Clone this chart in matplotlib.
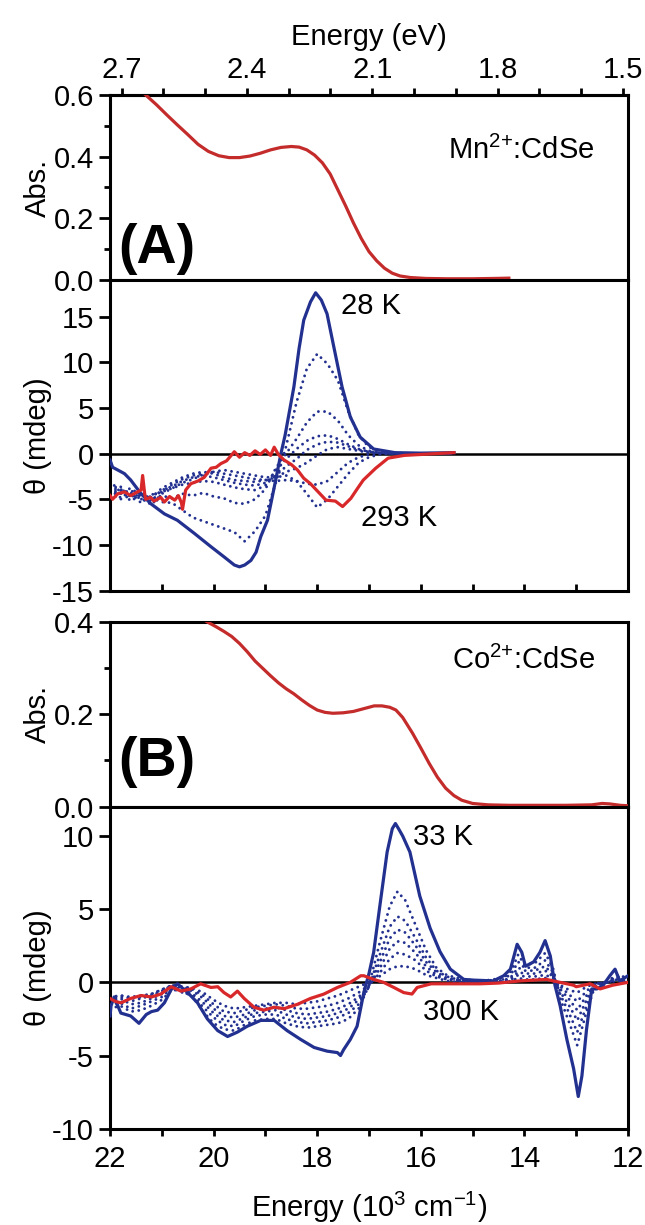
import matplotlib
matplotlib.use('Agg')
import matplotlib.pyplot as plt
from matplotlib.ticker import MultipleLocator, FixedLocator

plt.rcParams['font.family'] = ['Liberation Sans', 'DejaVu Sans']
plt.rcParams['axes.unicode_minus'] = False
plt.rcParams['mathtext.fontset'] = 'custom'
plt.rcParams['mathtext.rm'] = 'Liberation Sans'
plt.rcParams['mathtext.it'] = 'Liberation Sans:italic'
plt.rcParams['mathtext.bf'] = 'Liberation Sans:bold'
plt.rcParams['mathtext.default'] = 'regular'

BLUE = '#22308f'
RED = '#d8282a'
ABS_RED = '#c42b2b'
FS = 21

# ── (A) Mn2+:CdSe ─────────────────────────────────────────────────────────────
absA_x = [21.31, 21.10, 20.90, 20.70, 20.50, 20.30, 20.10, 19.90, 19.70, 19.50,
          19.30, 19.10, 18.90, 18.70, 18.50, 18.35, 18.20, 18.05, 17.90, 17.75,
          17.60, 17.45, 17.30, 17.15, 17.00, 16.85, 16.70, 16.55, 16.40, 16.20,
          15.90, 15.50, 15.00, 14.60, 14.30]
absA_y = [0.600, 0.568, 0.535, 0.503, 0.472, 0.440, 0.417, 0.403, 0.397, 0.397,
          0.402, 0.411, 0.422, 0.430, 0.433, 0.431, 0.422, 0.405, 0.380, 0.344,
          0.292, 0.240, 0.185, 0.135, 0.092, 0.062, 0.038, 0.022, 0.013, 0.008,
          0.005, 0.004, 0.004, 0.005, 0.006]

cdA_28K_x = [22.0, 21.95, 21.85, 21.72, 21.6, 21.4, 21.21, 20.95, 20.70, 20.38,
             20.05, 19.80, 19.6, 19.5, 19.4, 19.28, 19.18, 19.09, 18.96, 18.83,
             18.70, 18.62, 18.45, 18.35, 18.26, 18.13, 18.03, 17.92, 17.81, 17.68,
             17.52, 17.36, 17.17, 16.91, 16.5, 16.0, 15.36]
cdA_28K_y = [-0.7, -1.5, -1.8, -2.2, -2.9, -4.4, -5.5, -6.6, -7.3, -8.7,
             -10.2, -11.3, -12.2, -12.4, -12.2, -11.7, -10.8, -9.1, -7.3, -3.7,
             0.0, 2.0, 7.3, 11.5, 14.6, 16.6, 17.6, 16.8, 15.3, 11.7,
             7.3, 4.0, 1.8, 0.5, 0.1, 0.05, 0.1]

cdA_293K_x = [22.0, 21.95, 21.85, 21.72, 21.6, 21.47, 21.40, 21.37, 21.33, 21.31,
              21.22, 21.15, 21.02, 20.95, 20.85, 20.75, 20.68, 20.62, 20.60, 20.54,
              20.44, 20.30, 20.18, 20.05, 19.95, 19.86, 19.75, 19.60, 19.50, 19.40,
              19.30, 19.20, 19.10, 19.00, 18.90, 18.83, 18.75, 18.64, 18.50, 18.38,
              18.26, 18.13, 17.98, 17.83, 17.65, 17.51, 17.35, 17.22, 17.11, 16.87,
              16.63, 16.32, 16.0, 15.7, 15.36]
cdA_293K_y = [-4.6, -5.0, -4.4, -4.2, -4.6, -4.2, -4.0, -2.4, -4.4, -5.0,
              -4.8, -5.2, -4.8, -5.3, -4.7, -5.1, -4.6, -5.4, -6.1, -4.0,
              -3.3, -3.0, -2.6, -1.6, -1.5, -1.1, -0.8, 0.2, -0.4, 0.1,
              -0.2, 0.3, -0.1, 0.4, -0.2, 0.7, -0.1, -0.7, -1.2, -1.8,
              -2.7, -3.3, -4.2, -5.1, -5.2, -5.8, -4.9, -3.8, -2.9, -1.6,
              -0.5, -0.2, -0.1, 0.0, 0.1]

# intermediate temperatures, shared energy grid
cdA_mid_x = [22.0, 21.8, 21.6, 21.4, 21.2, 21.0, 20.8, 20.6, 20.4, 20.2,
             20.0, 19.8, 19.6, 19.4, 19.2, 19.0, 18.8, 18.6, 18.4, 18.2,
             18.0, 17.8, 17.6, 17.4, 17.2, 17.0, 16.8, 16.6, 16.4, 16.0,
             15.7, 15.4]
cdA_mid1 = [-3.0, -4.2, -3.8, -4.6, -4.9, -5.3, -5.4, -6.2, -7.0, -7.4,
            -7.8, -8.2, -8.6, -9.6, -8.5, -6.8, -3.2, 0.8, 5.6, 9.3,
            10.9, 9.8, 8.0, 4.6, 2.0, 0.7, 0.3, 0.1, 0.05, 0.0,
            0.0, 0.0]
cdA_mid2 = [-3.4, -3.9, -4.5, -4.2, -5.0, -4.6, -4.9, -4.4, -4.6, -4.3,
            -4.7, -4.9, -5.4, -5.5, -5.0, -3.9, -1.6, 0.0, 1.6, 3.4,
            4.6, 4.6, 3.6, 2.0, 0.9, 0.3, 0.1, 0.05, 0.0, 0.0,
            0.0, 0.0]
cdA_mid3 = [-3.8, -4.4, -4.0, -5.0, -4.5, -4.2, -3.8, -3.4, -3.2, -3.0,
            -3.1, -3.4, -3.7, -3.9, -4.0, -3.5, -1.8, -0.6, 0.5, 1.4,
            1.9, 2.0, 1.6, 1.0, 0.5, 0.2, 0.1, 0.0, 0.0, 0.0,
            0.0, 0.0]
cdA_mid4 = [-4.2, -3.6, -4.8, -4.4, -5.2, -4.0, -3.6, -3.0, -2.6, -2.4,
            -2.6, -2.9, -3.2, -3.4, -3.5, -3.2, -2.4, -1.4, -0.6, 0.4,
            1.0, 1.3, 1.2, 0.8, 0.4, 0.2, 0.1, 0.0, 0.0, 0.0,
            0.0, 0.0]
cdA_mid5 = [-4.6, -4.0, -5.2, -4.5, -4.8, -3.8, -3.2, -2.6, -2.2, -2.0,
            -2.2, -2.6, -2.9, -3.0, -3.1, -2.9, -2.6, -2.0, -1.6, -1.0,
            -0.2, 0.5, 0.7, 0.5, 0.3, 0.1, 0.0, 0.0, 0.0, 0.0,
            0.0, 0.0]
cdA_mid6 = [-4.0, -4.8, -4.3, -5.4, -4.6, -4.2, -3.4, -2.8, -2.4, -2.2,
            -2.0, -2.2, -2.4, -2.6, -2.8, -2.9, -3.0, -2.9, -3.0, -3.3,
            -3.4, -3.0, -2.0, -1.0, -0.4, -0.1, 0.0, 0.0, 0.0, 0.0,
            0.0, 0.0]
cdA_mid7 = [-4.4, -5.0, -4.6, -4.9, -5.6, -4.4, -3.8, -3.2, -2.8, -2.3,
            -2.0, -1.8, -2.0, -2.2, -2.4, -2.6, -2.6, -2.4, -3.0, -4.4,
            -5.9, -5.0, -3.6, -2.2, -1.0, -0.4, -0.1, 0.0, 0.0, 0.0,
            0.0, 0.0]

# ── (B) Co2+:CdSe ─────────────────────────────────────────────────────────────
absB_x = [20.13, 19.95, 19.80, 19.65, 19.50, 19.35, 19.20, 19.05, 18.90, 18.75,
          18.60, 18.45, 18.30, 18.15, 18.00, 17.85, 17.70, 17.50, 17.30, 17.10,
          16.90, 16.75, 16.60, 16.48, 16.35, 16.16, 16.00, 15.84, 15.68, 15.52,
          15.36, 15.21, 15.00, 14.70, 14.30, 13.80, 13.20, 12.70, 12.50, 12.35,
          12.15, 12.00]
absB_y = [0.400, 0.389, 0.379, 0.368, 0.353, 0.335, 0.315, 0.299, 0.283, 0.268,
          0.255, 0.244, 0.231, 0.219, 0.209, 0.204, 0.202, 0.203, 0.206, 0.212,
          0.218, 0.218, 0.215, 0.209, 0.193, 0.159, 0.127, 0.094, 0.064, 0.040,
          0.024, 0.014, 0.007, 0.004, 0.003, 0.003, 0.003, 0.004, 0.007, 0.006,
          0.003, 0.002]

cdB_33K_x = [22.0, 21.98, 21.92, 21.85, 21.79, 21.6, 21.44, 21.3, 21.2, 21.08,
             20.95, 20.82, 20.70, 20.50, 20.31, 20.12, 19.92, 19.73, 19.54, 19.35,
             19.09, 18.83, 18.58, 18.32, 18.06, 17.81, 17.61, 17.55, 17.49, 17.36,
             17.23, 17.10, 17.00, 16.91, 16.78, 16.65, 16.55, 16.49, 16.43, 16.35,
             16.21, 16.02, 15.82, 15.63, 15.43, 15.17, 14.97, 14.60, 14.40, 14.27,
             14.14, 14.05, 13.98, 13.82, 13.70, 13.60, 13.50, 13.41, 13.31, 13.18,
             13.05, 12.96, 12.89, 12.80, 12.70, 12.60, 12.48, 12.35, 12.25, 12.16,
             12.00]
cdB_33K_y = [-2.3, -1.6, -1.0, -1.6, -2.1, -2.3, -2.8, -2.2, -2.0, -1.9,
             -1.4, -0.5, -0.1, -0.7, -1.4, -2.5, -3.3, -3.7, -3.4, -3.0,
             -2.6, -2.6, -3.3, -3.9, -4.45, -4.7, -4.8, -5.0, -4.6, -3.9,
             -3.0, -0.7, 0.6, 2.05, 5.5, 8.9, 10.5, 10.85, 10.5, 10.0,
             8.9, 5.9, 3.7, 2.1, 0.9, 0.2, 0.15, 0.1, 0.45, 0.9,
             2.6, 2.05, 1.1, 1.4, 2.05, 2.85, 1.8, -0.2, -1.6, -3.9,
             -5.9, -7.8, -6.4, -3.2, -0.45, -0.45, -0.2, 0.45, 0.9, 0.1,
             0.45]

cdB_300K_x = [22.0, 21.9, 21.79, 21.6, 21.4, 21.2, 21.02, 20.82, 20.63, 20.44,
              20.25, 20.05, 19.92, 19.80, 19.67, 19.54, 19.41, 19.22, 19.03, 18.83,
              18.64, 18.38, 18.13, 17.87, 17.61, 17.36, 17.16, 17.10, 16.91, 16.72,
              16.52, 16.33, 16.17, 16.07, 15.80, 15.40, 14.85, 14.50, 14.08, 13.57,
              13.45, 13.31, 13.05, 13.00, 12.73, 12.54, 12.30, 12.00]
cdB_300K_y = [-1.1, -1.3, -1.4, -1.1, -0.9, -1.0, -0.8, -0.3, -0.6, -0.45,
              -0.1, -0.35, -0.3, -0.7, -1.0, -0.6, -1.1, -1.7, -1.9, -1.7,
              -1.8, -1.5, -1.1, -0.8, -0.35, 0.0, 0.45, 0.45, 0.2, 0.0,
              -0.35, -0.7, -0.8, -0.35, -0.1, -0.1, -0.1, -0.05, 0.1, 0.2,
              0.1, 0.0, -0.2, -0.3, -0.1, -0.45, -0.2, 0.0]

cdB_mid_x = [22.0, 21.8, 21.6, 21.4, 21.2, 21.0, 20.8, 20.6, 20.4, 20.2,
             20.0, 19.8, 19.6, 19.4, 19.2, 19.0, 18.8, 18.6, 18.4, 18.2,
             18.0, 17.8, 17.6, 17.4, 17.2, 17.0, 16.8, 16.6, 16.45, 16.3,
             16.1, 15.9, 15.7, 15.5, 15.2, 14.8, 14.4, 14.25, 14.12, 14.0,
             13.8, 13.6, 13.45, 13.3, 13.15, 12.98, 12.8, 12.65, 12.4, 12.2,
             12.0]
cdB_mid1 = [-1.8, -1.6, -2.0, -1.9, -1.6, -1.2, -0.5, -0.6, -1.0, -2.0,
            -2.8, -3.2, -3.3, -2.9, -2.6, -2.5, -2.5, -2.8, -3.0, -3.1,
            -3.0, -2.9, -2.8, -2.5, -1.8, -0.2, 2.6, 5.2, 6.2, 5.6,
            3.9, 2.2, 1.0, 0.5, 0.2, 0.1, 0.3, 0.8, 1.9, 1.2,
            1.3, 2.0, 1.0, -1.2, -2.6, -4.3, -2.0, -0.4, 0.1, 0.5,
            0.3]
cdB_mid2 = [-1.5, -1.4, -1.8, -1.6, -1.3, -1.0, -0.4, -0.7, -0.9, -1.7,
            -2.4, -2.9, -3.0, -2.6, -2.3, -2.2, -2.2, -2.5, -2.7, -2.8,
            -2.7, -2.6, -2.4, -2.1, -1.5, -0.3, 1.8, 3.8, 4.5, 4.2,
            3.0, 1.7, 0.8, 0.4, 0.1, 0.1, 0.2, 0.6, 1.4, 1.0,
            1.0, 1.5, 0.7, -0.9, -2.0, -3.4, -1.6, -0.3, 0.0, 0.4,
            0.2]
cdB_mid3 = [-1.3, -1.1, -1.5, -1.4, -1.1, -0.8, -0.3, -0.5, -0.8, -1.4,
            -2.1, -2.6, -2.7, -2.4, -2.1, -2.0, -1.9, -2.2, -2.4, -2.5,
            -2.4, -2.3, -2.1, -1.8, -1.2, -0.3, 1.3, 3.0, 3.6, 3.4,
            2.5, 1.4, 0.7, 0.3, 0.1, 0.0, 0.1, 0.4, 1.0, 0.8,
            0.8, 1.1, 0.5, -0.7, -1.5, -2.6, -1.2, -0.2, 0.1, 0.3,
            0.1]
cdB_mid4 = [-1.2, -1.0, -1.3, -1.1, -0.9, -0.6, -0.2, -0.4, -0.6, -1.1,
            -1.8, -2.3, -2.4, -2.2, -1.9, -1.8, -1.7, -1.9, -2.1, -2.2,
            -2.1, -2.0, -1.8, -1.5, -1.0, -0.3, 0.9, 2.3, 2.8, 2.7,
            2.0, 1.1, 0.5, 0.2, 0.1, 0.0, 0.1, 0.3, 0.7, 0.6,
            0.6, 0.8, 0.4, -0.5, -1.1, -1.9, -0.9, -0.2, 0.0, 0.2,
            0.1]
cdB_mid5 = [-1.1, -0.9, -1.1, -1.0, -0.8, -0.5, -0.2, -0.3, -0.5, -0.9,
            -1.5, -2.0, -2.1, -1.9, -1.7, -1.6, -1.5, -1.6, -1.8, -1.8,
            -1.7, -1.6, -1.4, -1.1, -0.7, -0.2, 0.6, 1.6, 2.0, 1.9,
            1.5, 0.8, 0.4, 0.2, 0.1, 0.0, 0.1, 0.2, 0.5, 0.4,
            0.4, 0.5, 0.3, -0.3, -0.8, -1.3, -0.6, -0.1, 0.0, 0.2,
            0.0]
cdB_mid6 = [-1.0, -0.9, -1.0, -0.9, -0.8, -0.5, -0.2, -0.3, -0.4, -0.7,
            -1.2, -1.6, -1.8, -1.7, -1.6, -1.5, -1.4, -1.4, -1.5, -1.4,
            -1.3, -1.1, -0.9, -0.6, -0.3, 0.0, 0.4, 0.9, 1.1, 1.1,
            0.9, 0.5, 0.3, 0.1, 0.0, 0.0, 0.0, 0.1, 0.3, 0.2,
            0.2, 0.3, 0.1, -0.2, -0.5, -0.7, -0.3, -0.1, 0.0, 0.1,
            0.0]

EV_TICKS = [2.7, 2.4, 2.1, 1.8, 1.5]
WN_TICKS = [22, 20, 18, 16, 14, 12]


def wn_to_ev(x):
    return x / 8.06554


def ev_to_wn(e):
    return e * 8.06554


def base_style(ax):
    ax.set_xlim(22, 12)
    for s in ax.spines.values():
        s.set_linewidth(2.2)
    ax.tick_params(axis='y', which='major', direction='out', length=8, width=2,
                   labelsize=FS, pad=3.5)
    ax.tick_params(axis='y', which='minor', direction='out', length=4.5, width=2)
    ax.tick_params(right=False, which='both')
    ax.yaxis.set_label_coords(-0.112, 0.5)


def dotted(ax, x, y):
    ax.plot(x, y, color=BLUE, lw=2.1, linestyle=(0, (0.01, 2.1)),
            dash_capstyle='round', zorder=2)


fig = plt.figure(figsize=(6.45, 12.25), dpi=100)
L, W = 0.17054, 0.80310
axA1 = fig.add_axes([L, 0.77143, W, 0.15102])
axA2 = fig.add_axes([L, 0.51788, W, 0.25355])
axB1 = fig.add_axes([L, 0.34147, W, 0.15102])
axB2 = fig.add_axes([L, 0.07861, W, 0.26286])

# absorption panels
for ax, x, y, top, name, tag, ty, tagy in [
        (axA1, absA_x, absA_y, 0.6, 'Mn$^{2{+}}$:CdSe', '(A)', 0.70, 0.17),
        (axB1, absB_x, absB_y, 0.4, 'Co$^{2{+}}$:CdSe', '(B)', 0.79, 0.24)]:
    base_style(ax)
    ax.plot(x, y, color=ABS_RED, lw=2.3, zorder=3)
    ax.set_ylim(0, top)
    ax.yaxis.set_major_locator(MultipleLocator(0.2))
    ax.yaxis.set_minor_locator(MultipleLocator(0.1))
    ax.yaxis.set_major_formatter(lambda v, p: f'{v:.1f}')
    ax.tick_params(axis='x', which='both', bottom=False, top=False,
                   labelbottom=False)
    ax.set_ylabel('Abs.', fontsize=FS)
    ax.text(0.936, ty, name, transform=ax.transAxes, ha='right', va='center',
            fontsize=FS)
    ax.text(0.015, tagy, tag, transform=ax.transAxes, ha='left', va='center',
            fontsize=40, fontweight='bold')

# top energy axis in eV
sec = axA1.secondary_xaxis('top', functions=(wn_to_ev, ev_to_wn))
sec.xaxis.set_major_locator(FixedLocator(EV_TICKS))
sec.xaxis.set_minor_locator(MultipleLocator(0.1))
sec.xaxis.set_major_formatter(lambda v, p: f'{v:.1f}')
sec.tick_params(which='both', direction='out', length=5, width=2,
                labelsize=FS, pad=3)
sec.spines['top'].set_linewidth(2.2)
sec.set_xlabel('Energy (eV)', fontsize=FS, labelpad=8)

# MCD panel A
base_style(axA2)
axA2.axhline(0, color='black', lw=1.8, zorder=1)
for yv in [cdA_mid1, cdA_mid2, cdA_mid3, cdA_mid4, cdA_mid5, cdA_mid6, cdA_mid7]:
    dotted(axA2, cdA_mid_x, yv)
axA2.plot(cdA_28K_x, cdA_28K_y, color=BLUE, lw=2.3, zorder=3)
axA2.plot(cdA_293K_x, cdA_293K_y, color=RED, lw=2.3, zorder=4)
axA2.set_ylim(-15, 19)
axA2.yaxis.set_major_locator(FixedLocator([-15, -10, -5, 0, 5, 10, 15]))
axA2.xaxis.set_major_locator(MultipleLocator(1))
axA2.tick_params(axis='x', which='both', direction='in', length=5, width=2,
                 top=False, labelbottom=False)
axA2.set_ylabel('θ (mdeg)', fontsize=FS)
axA2.text(17.55, 16.2, '28 K', fontsize=FS, ha='left', va='center')
axA2.text(17.16, -7.0, '293 K', fontsize=FS, ha='left', va='center')

# MCD panel B
base_style(axB2)
axB2.axhline(0, color='black', lw=1.8, zorder=1)
for yv in [cdB_mid1, cdB_mid2, cdB_mid3, cdB_mid4, cdB_mid5, cdB_mid6]:
    dotted(axB2, cdB_mid_x, yv)
axB2.plot(cdB_33K_x, cdB_33K_y, color=BLUE, lw=2.3, zorder=3)
axB2.plot(cdB_300K_x, cdB_300K_y, color=RED, lw=2.3, zorder=4)
axB2.set_ylim(-10, 12)
axB2.yaxis.set_major_locator(FixedLocator([-10, -5, 0, 5, 10]))
axB2.xaxis.set_major_locator(FixedLocator(WN_TICKS))
axB2.xaxis.set_minor_locator(MultipleLocator(1))
axB2.tick_params(axis='x', which='both', direction='out', length=5, width=2,
                 top=False, labelsize=FS, pad=7)
axB2.set_ylabel('θ (mdeg)', fontsize=FS)
axB2.set_xlabel('Energy (10$^3$ cm$^{-1}$)', fontsize=FS, labelpad=12)
axB2.text(16.16, 9.95, '33 K', fontsize=FS, ha='left', va='center')
axB2.text(15.95, -2.0, '300 K', fontsize=FS, ha='left', va='center')

fig.savefig('out.png', dpi=100)
